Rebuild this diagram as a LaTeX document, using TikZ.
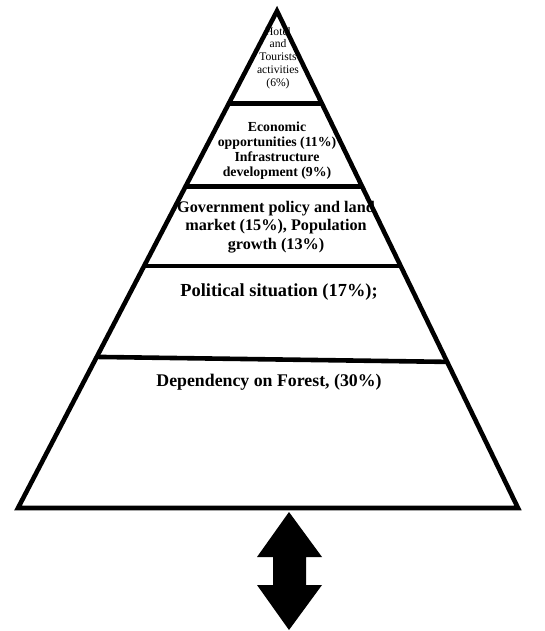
\documentclass[tikz,border=0pt]{standalone}
\usepackage{fontspec}
\setmainfont{Liberation Serif}
\usetikzlibrary{calc}
\begin{document}
\begin{tikzpicture}[x=1pt,y=-1pt,
  outline/.style={line width=4.6pt,line join=miter,black},
  divider/.style={line width=4.6pt,black},
  lbl/.style={align=center,inner sep=0pt,text=black}]
\useasboundingbox (0,0) rectangle (544,631);
% text first (lines are drawn over it)
\node[lbl,font=\fontsize{11.6}{12.8}\selectfont] (t1) at (278,58) {Hotel\\and\\Tourists\\activities\\(6\%)};
\node[lbl,font=\bfseries\fontsize{13.8}{15}\selectfont] (t2) at (277,151) {Economic\\opportunities (11\%)\\Infrastructure\\development (9\%)};
\node[lbl,font=\bfseries\fontsize{16.2}{18.7}\selectfont] (t3) at (276,227) {Government policy and land\\market (15\%), Population\\growth (13\%)};
\node[lbl,font=\bfseries\fontsize{18.4}{20}\selectfont] (t4) at (279,292) {Political situation (17\%);};
\node[lbl,font=\bfseries\fontsize{17.8}{20}\selectfont] (t5) at (269,382) {Dependency on Forest, (30\%)};
% pyramid
\coordinate (apex) at (277,11);
\coordinate (bl) at (18,508);
\coordinate (br) at (518,508);
\draw[outline] (apex) -- (bl) -- (br) -- cycle;
\draw[divider] ($(apex)!0.186!(bl)$) -- ($(apex)!0.186!(br)$);
\draw[divider] ($(apex)!0.353!(bl)$) -- ($(apex)!0.353!(br)$);
\draw[divider] ($(apex)!0.513!(bl)$) -- ($(apex)!0.513!(br)$);
\draw[divider] ($(apex)!0.696!(bl)$) -- ($(apex)!0.706!(br)$);
% double arrow
\fill[black] (289,512) -- (322,557) -- (306,557) -- (306,585) -- (322,585)
  -- (289,630) -- (257,585) -- (273,585) -- (273,557) -- (257,557) -- cycle;
\end{tikzpicture}
\end{document}
